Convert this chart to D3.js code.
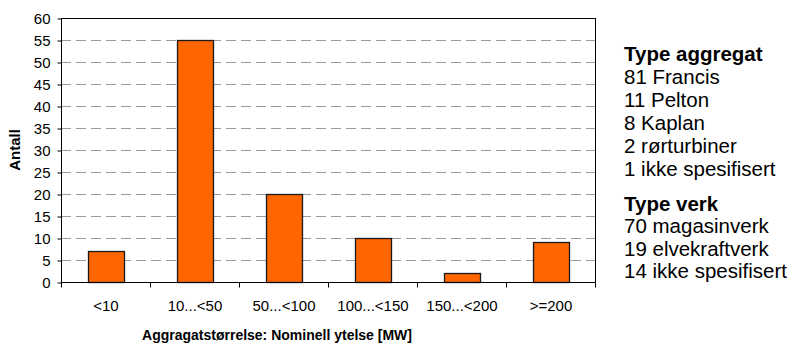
<!DOCTYPE html>
<html>
<head>
<meta charset="utf-8">
<script src="https://cdn.jsdelivr.net/npm/d3@7"></script>
<style>
  html, body { margin: 0; padding: 0; background: #fff; }
  text { font-family: "Liberation Sans", Arial, sans-serif; fill: #000; }
</style>
</head>
<body>
<svg id="chart" width="795" height="345"></svg>
<script>
// Unit size classes and counts
const categories = ["<10", "10...<50", "50...<100", "100...<150", "150...<200", ">=200"];
const counts = [7, 55, 20, 10, 2, 9];
const yTicks = [0, 5, 10, 15, 20, 25, 30, 35, 40, 45, 50, 55, 60];

// Side notes
const turbineTitle = "Type aggregat";
const turbineLines = ["81 Francis", "11 Pelton", "8 Kaplan", "2 rørturbiner", "1 ikke spesifisert"];
const plantTitle = "Type verk";
const plantLines = ["70 magasinverk", "19 elvekraftverk", "14 ikke spesifisert"];

const xTitle = "Aggragatstørrelse: Nominell ytelse [MW]";
const yTitle = "Antall";

const svg = d3.select("#chart");
const plot = { left: 61, right: 595, top: 18, bottom: 282 };

const x = d3.scaleBand().domain(categories).range([plot.left, plot.right]).paddingInner(0.6).paddingOuter(0.3);
const xBounds = d3.scaleLinear().domain([0, categories.length]).range([plot.left, plot.right]);
const y = d3.scaleLinear().domain([0, 60]).range([plot.bottom, plot.top]);

// dashed gridlines
svg.append("g")
  .selectAll("line")
  .data(yTicks.filter(d => d > 0 && d < 60))
  .join("line")
  .attr("x1", plot.left).attr("x2", plot.right)
  .attr("y1", d => y(d) + 0.5).attr("y2", d => y(d) + 0.5)
  .attr("stroke", "#9a9a9a")
  .attr("stroke-width", 1)
  .attr("stroke-dasharray", "10,5");

// bars
svg.append("g")
  .selectAll("rect")
  .data(counts)
  .join("rect")
  .attr("x", (d, i) => Math.round(x(categories[i])) + 0.5)
  .attr("y", d => Math.round(y(d)) + 0.5)
  .attr("width", Math.round(x.bandwidth()))
  .attr("height", d => Math.round(y(0)) - Math.round(y(d)))
  .attr("fill", "#ff6600")
  .attr("stroke", "#1a1a1a")
  .attr("stroke-width", 1.3);

// plot frame
svg.append("rect")
  .attr("x", plot.left + 0.5).attr("y", plot.top + 0.5)
  .attr("width", plot.right - plot.left).attr("height", plot.bottom - plot.top)
  .attr("fill", "none").attr("stroke", "#000").attr("stroke-width", 1);

// y axis
const yAxis = d3.axisLeft(y).tickValues(yTicks).tickSize(4).tickPadding(7);
const gy = svg.append("g").attr("transform", `translate(${plot.left + 0.5},0.5)`).call(yAxis);
gy.select(".domain").remove();
gy.selectAll("text").style("font-size", "15px").style("font-family", "'Liberation Sans', Arial, sans-serif");
gy.selectAll("line").attr("stroke", "#000");

// x axis: ticks at category boundaries, labels centred below each bar
const gx = svg.append("g").attr("transform", `translate(0.5,${plot.bottom + 0.5})`);
gx.selectAll("line")
  .data(d3.range(categories.length + 1))
  .join("line")
  .attr("x1", d => Math.round(xBounds(d))).attr("x2", d => Math.round(xBounds(d)))
  .attr("y1", 0).attr("y2", 5)
  .attr("stroke", "#000");
gx.selectAll("text")
  .data(categories)
  .join("text")
  .attr("x", d => x(d) + x.bandwidth() / 2)
  .attr("y", 28.5)
  .attr("text-anchor", "middle")
  .style("font-size", "15px")
  .text(d => d);

// axis titles
svg.append("text")
  .attr("x", 277).attr("y", 340)
  .attr("text-anchor", "middle")
  .style("font-size", "14px").style("font-weight", "bold")
  .text(xTitle);

svg.append("text")
  .attr("transform", "translate(20,150) rotate(-90)")
  .attr("text-anchor", "middle")
  .style("font-size", "15px").style("font-weight", "bold")
  .text(yTitle);

// side notes
const notes = svg.append("g").attr("transform", "translate(624,0)");
const block = (title, lines, top, lineH) => {
  notes.append("text").attr("x", 0).attr("y", top)
    .style("font-size", "20.5px").style("font-weight", "bold").text(title);
  notes.selectAll(null).data(lines).join("text")
    .attr("x", 0).attr("y", (d, i) => top + lineH * (i + 1))
    .style("font-size", "20.5px").text(d => d);
};
block(turbineTitle, turbineLines, 60.5, 23);
block(plantTitle, plantLines, 211, 22.4);
</script>
</body>
</html>
